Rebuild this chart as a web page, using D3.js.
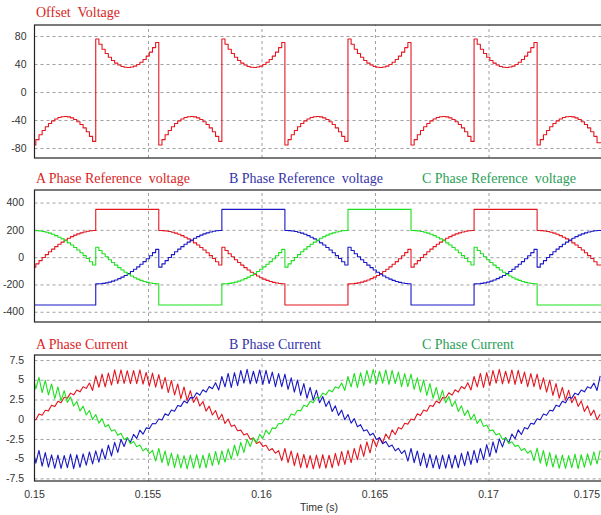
<!DOCTYPE html>
<html><head><meta charset="utf-8">
<script src="https://cdn.jsdelivr.net/npm/d3@7"></script>
<style>
html,body{margin:0;padding:0;background:#fff;}
svg{display:block;}
</style></head><body>
<svg id="chart" width="601" height="515"></svg>
<script>
// ---- data ----
const T0 = 0.15, T1 = 0.175;
const SAMPLE_START = 0.14992, SAMPLE_DT = 1 / 7200;
const xTicks = [0.15, 0.155, 0.16, 0.165, 0.17, 0.175];
const offsetTicks = [80, 40, 0, -40, -80];
const refTicks = [400, 200, 0, -200, -400];
const curTicks = [7.5, 5, 2.5, 0, -2.5, -5, -7.5];

const offsetVoltage = [
-75.8,-68.1,-61.1,-55.0,-49.6,-45.0,-41.3,-38.5,-36.5,-35.3,-35.0,-35.6,-37.0,-39.3,-42.5,-46.5,-51.3,-56.9,-63.4,-70.6,
75.8,68.1,61.1,55.0,49.6,45.0,41.3,38.5,36.5,35.3,35.0,35.6,37.0,39.3,42.5,46.5,51.3,56.9,63.4,70.6,
-75.8,-68.1,-61.1,-55.0,-49.6,-45.0,-41.3,-38.5,-36.5,-35.3,-35.0,-35.6,-37.0,-39.3,-42.5,-46.5,-51.3,-56.9,-63.4,-70.6,
75.8,68.1,61.1,55.0,49.6,45.0,41.3,38.5,36.5,35.3,35.0,35.6,37.0,39.3,42.5,46.5,51.3,56.9,63.4,70.6,
-75.8,-68.1,-61.1,-55.0,-49.6,-45.0,-41.3,-38.5,-36.5,-35.3,-35.0,-35.6,-37.0,-39.3,-42.5,-46.5,-51.3,-56.9,-63.4,-70.6,
75.8,68.1,61.1,55.0,49.6,45.0,41.3,38.5,36.5,35.3,35.0,35.6,37.0,39.3,42.5,46.5,51.3,56.9,63.4,70.6,
-75.8,-68.1,-61.1,-55.0,-49.6,-45.0,-41.3,-38.5,-36.5,-35.3,-35.0,-35.6,-37.0,-39.3,-42.5,-46.5,-51.3,-56.9,-63.4,-70.6,
75.8,68.1,61.1,55.0,49.6,45.0,41.3,38.5,36.5,35.3,35.0,35.6,37.0,39.3,42.5,46.5,51.3,56.9,63.4,70.6,
-75.8,-68.1,-61.1,-55.0,-49.6,-45.0,-41.3,-38.5,-36.5,-35.3,-35.0,-35.6,-37.0,-39.3,-42.5,-46.5,-51.3,-56.9,-63.4,-72.6
];

const refA = [
-73.1,-48.9,-25.4,-3.0,18.6,39.2,58.6,76.9,94.1,110.2,124.9,138.3,150.4,161.1,170.3,178.2,184.6,189.6,193.0,195.1,
350,350,350,350,350,350,350,350,350,350,350,350,350,350,350,350,350,350,350,350,
195.6,194.6,192.1,188.1,182.6,175.8,167.4,157.6,146.4,134.0,120.1,105.0,88.6,71.0,52.2,32.4,11.5,-10.3,-33.2,-56.9,
73.1,48.9,25.4,3.0,-18.6,-39.2,-58.6,-76.9,-94.1,-110.2,-124.9,-138.3,-150.4,-161.1,-170.3,-178.2,-184.6,-189.6,-193.0,-195.1,
-350,-350,-350,-350,-350,-350,-350,-350,-350,-350,-350,-350,-350,-350,-350,-350,-350,-350,-350,-350,
-195.6,-194.6,-192.1,-188.1,-182.6,-175.8,-167.4,-157.6,-146.4,-134.0,-120.1,-105.0,-88.6,-71.0,-52.2,-32.4,-11.5,10.3,33.2,56.9,
-73.1,-48.9,-25.4,-3.0,18.6,39.2,58.6,76.9,94.1,110.2,124.9,138.3,150.4,161.1,170.3,178.2,184.6,189.6,193.0,195.1,
350,350,350,350,350,350,350,350,350,350,350,350,350,350,350,350,350,350,350,350,
195.6,194.6,192.1,188.1,182.6,175.8,167.4,157.6,146.4,134.0,120.1,105.0,88.6,71.0,52.2,32.4,11.5,-10.3,-33.2,-56.9
];
const refB = [
-350,-350,-350,-350,-350,-350,-350,-350,-350,-350,-350,-350,-350,-350,-350,-350,-350,-350,-350,-350,
-195.6,-194.6,-192.1,-188.1,-182.6,-175.8,-167.4,-157.6,-146.4,-134.0,-120.1,-105.0,-88.6,-71.0,-52.2,-32.4,-11.5,10.3,33.2,56.9,
-73.1,-48.9,-25.4,-3.0,18.6,39.2,58.6,76.9,94.1,110.2,124.9,138.3,150.4,161.1,170.3,178.2,184.6,189.6,193.0,195.1,
350,350,350,350,350,350,350,350,350,350,350,350,350,350,350,350,350,350,350,350,
195.6,194.6,192.1,188.1,182.6,175.8,167.4,157.6,146.4,134.0,120.1,105.0,88.6,71.0,52.2,32.4,11.5,-10.3,-33.2,-56.9,
73.1,48.9,25.4,3.0,-18.6,-39.2,-58.6,-76.9,-94.1,-110.2,-124.9,-138.3,-150.4,-161.1,-170.3,-178.2,-184.6,-189.6,-193.0,-195.1,
-350,-350,-350,-350,-350,-350,-350,-350,-350,-350,-350,-350,-350,-350,-350,-350,-350,-350,-350,-350,
-195.6,-194.6,-192.1,-188.1,-182.6,-175.8,-167.4,-157.6,-146.4,-134.0,-120.1,-105.0,-88.6,-71.0,-52.2,-32.4,-11.5,10.3,33.2,56.9,
-73.1,-48.9,-25.4,-3.0,18.6,39.2,58.6,76.9,94.1,110.2,124.9,138.3,150.4,161.1,170.3,178.2,184.6,189.6,193.0,195.1
];
const refC = [
195.6,194.6,192.1,188.1,182.6,175.8,167.4,157.6,146.4,134.0,120.1,105.0,88.6,71.0,52.2,32.4,11.5,-10.3,-33.2,-56.9,
73.1,48.9,25.4,3.0,-18.6,-39.2,-58.6,-76.9,-94.1,-110.2,-124.9,-138.3,-150.4,-161.1,-170.3,-178.2,-184.6,-189.6,-193.0,-195.1,
-350,-350,-350,-350,-350,-350,-350,-350,-350,-350,-350,-350,-350,-350,-350,-350,-350,-350,-350,-350,
-195.6,-194.6,-192.1,-188.1,-182.6,-175.8,-167.4,-157.6,-146.4,-134.0,-120.1,-105.0,-88.6,-71.0,-52.2,-32.4,-11.5,10.3,33.2,56.9,
-73.1,-48.9,-25.4,-3.0,18.6,39.2,58.6,76.9,94.1,110.2,124.9,138.3,150.4,161.1,170.3,178.2,184.6,189.6,193.0,195.1,
350,350,350,350,350,350,350,350,350,350,350,350,350,350,350,350,350,350,350,350,
195.6,194.6,192.1,188.1,182.6,175.8,167.4,157.6,146.4,134.0,120.1,105.0,88.6,71.0,52.2,32.4,11.5,-10.3,-33.2,-56.9,
73.1,48.9,25.4,3.0,-18.6,-39.2,-58.6,-76.9,-94.1,-110.2,-124.9,-138.3,-150.4,-161.1,-170.3,-178.2,-184.6,-189.6,-193.0,-195.1,
-350,-350,-350,-350,-350,-350,-350,-350,-350,-350,-350,-350,-350,-350,-350,-350,-350,-350,-350,-350
];

const currentA = [
0.06,-0.06,0.67,0.51,1.13,1.06,1.78,1.60,2.27,2.08,2.78,2.67,3.31,3.09,3.71,3.47,4.12,3.91,4.58,3.65,
5.50,4.05,5.72,4.09,5.84,4.33,6.25,4.51,6.25,4.53,6.15,4.50,6.18,4.50,6.26,4.45,5.93,4.19,5.84,4.07,
5.65,3.85,5.30,3.38,4.91,3.07,4.47,2.61,4.09,2.36,3.62,2.13,2.83,1.67,2.25,1.03,1.66,0.53,1.11,-0.03,
0.64,-0.54,0.03,-0.91,-0.73,-1.46,-1.38,-2.00,-1.82,-2.53,-2.38,-3.07,-2.86,-3.44,-3.31,-3.97,-3.72,-4.31,-3.98,-5.25,
-3.70,-5.50,-4.02,-5.89,-4.29,-6.13,-4.45,-6.16,-4.60,-6.28,-4.55,-6.20,-4.48,-6.20,-4.56,-6.15,-4.33,-5.89,-4.09,-5.72,
-3.95,-5.50,-3.70,-5.13,-3.21,-4.72,-2.87,-4.26,-2.49,-3.51,-2.32,-2.98,-1.88,-2.47,-1.35,-1.93,-1.06,-1.23,-0.51,-0.62,
0.02,-0.10,0.70,0.47,1.17,1.02,1.75,1.63,2.31,2.05,2.74,2.70,3.35,3.05,3.74,3.44,4.15,3.86,4.62,3.70,
5.42,4.10,5.80,4.02,5.90,4.25,6.18,4.58,6.32,4.47,6.08,4.56,6.24,4.41,6.20,4.52,5.98,4.12,5.79,4.13,
5.71,3.79,5.24,3.44,4.97,3.01,4.52,2.66,4.03,2.41,3.68,2.08,2.88,1.62,2.30,0.98,1.70,0.49,1.15,-0.07,
0.64
];
const currentB = [
-3.65,-5.56,-3.96,-5.95,-4.23,-6.07,-4.51,-6.22,-4.54,-6.23,-4.61,-6.14,-4.42,-6.26,-4.50,-6.09,-4.39,-5.83,-4.15,-5.66,
-4.00,-5.44,-3.76,-5.07,-3.27,-4.66,-2.93,-4.20,-2.55,-3.46,-2.36,-2.94,-1.92,-2.43,-1.39,-1.89,-1.10,-1.19,-0.55,-0.58,
0.02,-0.10,0.70,0.47,1.17,1.02,1.75,1.63,2.31,2.05,2.74,2.70,3.35,3.05,3.74,3.44,4.15,3.86,4.62,3.70,
5.42,4.10,5.80,4.02,5.90,4.25,6.18,4.58,6.32,4.47,6.08,4.56,6.24,4.41,6.20,4.52,5.98,4.12,5.79,4.13,
5.71,3.79,5.24,3.44,4.97,3.01,4.52,2.66,4.03,2.41,3.68,2.08,2.88,1.62,2.30,0.98,1.70,0.49,1.15,-0.07,
0.60,-0.50,0.07,-0.95,-0.69,-1.50,-1.34,-2.04,-1.78,-2.57,-2.34,-3.11,-2.82,-3.48,-3.27,-4.01,-3.68,-4.35,-3.94,-5.30,
-3.70,-5.50,-4.02,-5.89,-4.29,-6.13,-4.45,-6.16,-4.60,-6.28,-4.55,-6.20,-4.48,-6.20,-4.56,-6.15,-4.33,-5.89,-4.09,-5.72,
-3.95,-5.50,-3.70,-5.13,-3.21,-4.72,-2.87,-4.26,-2.49,-3.51,-2.32,-2.98,-1.88,-2.47,-1.35,-1.93,-1.06,-1.23,-0.51,-0.62,
0.06,-0.06,0.67,0.51,1.13,1.06,1.78,1.60,2.27,2.08,2.78,2.67,3.31,3.09,3.71,3.47,4.12,3.91,4.58,3.65,
5.50
];
const currentC = [
5.65,3.85,5.30,3.38,4.91,3.07,4.47,2.61,4.09,2.36,3.62,2.13,2.83,1.67,2.25,1.03,1.66,0.53,1.11,-0.03,
0.60,-0.50,0.07,-0.95,-0.69,-1.50,-1.34,-2.04,-1.78,-2.57,-2.34,-3.11,-2.82,-3.48,-3.27,-4.01,-3.68,-4.35,-3.94,-5.30,
-3.70,-5.50,-4.02,-5.89,-4.29,-6.13,-4.45,-6.16,-4.60,-6.28,-4.55,-6.20,-4.48,-6.20,-4.56,-6.15,-4.33,-5.89,-4.09,-5.72,
-4.00,-5.44,-3.76,-5.07,-3.27,-4.66,-2.93,-4.20,-2.55,-3.46,-2.36,-2.94,-1.92,-2.43,-1.39,-1.89,-1.10,-1.19,-0.55,-0.58,
0.06,-0.06,0.67,0.51,1.13,1.06,1.78,1.60,2.27,2.08,2.78,2.67,3.31,3.09,3.71,3.47,4.12,3.91,4.58,3.65,
5.42,4.10,5.80,4.02,5.90,4.25,6.18,4.58,6.32,4.47,6.08,4.56,6.24,4.41,6.20,4.52,5.98,4.12,5.79,4.13,
5.71,3.79,5.24,3.44,4.97,3.01,4.52,2.66,4.03,2.41,3.68,2.08,2.88,1.62,2.30,0.98,1.70,0.49,1.15,-0.07,
0.64,-0.54,0.03,-0.91,-0.73,-1.46,-1.38,-2.00,-1.82,-2.53,-2.38,-3.07,-2.86,-3.44,-3.31,-3.97,-3.72,-4.31,-3.98,-5.25,
-3.65,-5.56,-3.96,-5.95,-4.23,-6.07,-4.51,-6.22,-4.54,-6.23,-4.61,-6.14,-4.42,-6.26,-4.50,-6.09,-4.39,-5.83,-4.15,-5.66,
-3.95
];

// ---- styling ----
const RED = '#e4161f', BLUE = '#1818c4', GREEN = '#1ee01e';
const RED_T = '#d81e26', BLUE_T = '#3434a8', GREEN_T = '#2a9e58';
const SANS = '"Liberation Sans", Arial, sans-serif';
const SERIF = '"Liberation Serif", "Times New Roman", serif';

const panels = [
  { top: 25, bottom: 158, yDomain: [-94.3, 95.7], ticks: offsetTicks, labelX: 26.5, titleY: 16.5,
    titles: [['Offset  Voltage', 36, RED_T]],
    series: [[offsetVoltage, RED, true]] },
  { top: 190, bottom: 322, yDomain: [-475, 492], ticks: refTicks, labelX: 24, titleY: 183,
    titles: [['A Phase Reference  voltage', 36, RED_T], ['B Phase Reference  voltage', 229, BLUE_T], ['C Phase Reference  voltage', 422, GREEN_T]],
    series: [[refA, RED, true], [refB, BLUE, true], [refC, GREEN, true]] },
  { top: 355, bottom: 481, yDomain: [-7.83, 8.14], ticks: curTicks, labelX: 24, titleY: 349,
    titles: [['A Phase Current', 36, RED_T], ['B Phase Current', 229, BLUE_T], ['C Phase Current', 422, GREEN_T]],
    series: [[currentA, RED, false], [currentB, BLUE, false], [currentC, GREEN, false]] }
];

const svg = d3.select('#chart');
const x = d3.scaleLinear().domain([T0, T1]).range([34.5, 602]);
const X0 = x.range()[0], X1 = x.range()[1];
const sampleT = k => SAMPLE_START + k * SAMPLE_DT;

panels.forEach((p, i) => {
  const y = d3.scaleLinear().domain(p.yDomain).range([p.bottom, p.top]);
  const g = svg.append('g');
  svg.append('clipPath').attr('id', 'clip' + i).append('rect')
    .attr('x', X0).attr('y', p.top).attr('width', X1 - X0).attr('height', p.bottom - p.top);

  // horizontal grid
  g.append('g').attr('transform', `translate(${X0},0)`)
    .call(d3.axisLeft(y).tickValues(p.ticks).tickSize(-(X1 - X0)).tickFormat(''))
    .call(s => { s.select('.domain').remove();
      s.selectAll('line').attr('stroke', '#a0a0a0').attr('stroke-dasharray', '3,3').attr('stroke-width', 1); });
  // vertical grid
  g.append('g').attr('transform', `translate(0,${p.bottom})`)
    .call(d3.axisBottom(x).tickValues(xTicks.slice(1, -1)).tickSize(-(p.bottom - p.top)).tickFormat(''))
    .call(s => { s.select('.domain').remove();
      s.selectAll('line').attr('stroke', '#a0a0a0').attr('stroke-dasharray', '3,3').attr('stroke-width', 1); });

  // y labels
  g.append('g').selectAll('text').data(p.ticks).join('text')
    .attr('x', p.labelX).attr('y', d => y(d)).attr('dy', '0.35em')
    .attr('text-anchor', 'end').attr('font-family', SANS).attr('font-size', 10.5)
    .attr('fill', '#333').text(d => String(d));

  // series
  const plot = g.append('g').attr('clip-path', `url(#clip${i})`);
  p.series.forEach(([vals, color, step]) => {
    const pts = vals.map((v, k) => [sampleT(k), v]);
    if (step) pts.push([T1 + SAMPLE_DT, vals[vals.length - 1]]);
    const line = d3.line().x(d => x(d[0])).y(d => y(d[1]))
      .curve(step ? d3.curveStepAfter : d3.curveLinear);
    plot.append('path').attr('d', line(pts)).attr('fill', 'none')
      .attr('stroke', color).attr('stroke-width', 1.1).attr('stroke-linejoin', 'round');
  });

  // frame
  g.append('rect').attr('x', X0).attr('y', p.top).attr('width', X1 - X0).attr('height', p.bottom - p.top)
    .attr('fill', 'none').attr('stroke', '#222').attr('stroke-width', 1.2);

  // titles
  p.titles.forEach(([t, tx, c]) => {
    g.append('text').attr('x', tx).attr('y', p.titleY).attr('font-family', SERIF)
      .attr('font-size', 14).attr('fill', c).style('white-space', 'pre').text(t);
  });
});

// x axis labels (bottom panel only)
svg.append('g').selectAll('text').data(xTicks).join('text')
  .attr('x', (d, i) => i === xTicks.length - 1 ? 600 : x(d))
  .attr('y', 498).attr('text-anchor', (d, i) => i === xTicks.length - 1 ? 'end' : 'middle')
  .attr('font-family', SANS).attr('font-size', 10.5).attr('fill', '#333')
  .text(d => String(d));
svg.append('text').attr('x', 319).attr('y', 511).attr('text-anchor', 'middle')
  .attr('font-family', SANS).attr('font-size', 10.5).attr('fill', '#333').text('Time (s)');
</script>
</body></html>
